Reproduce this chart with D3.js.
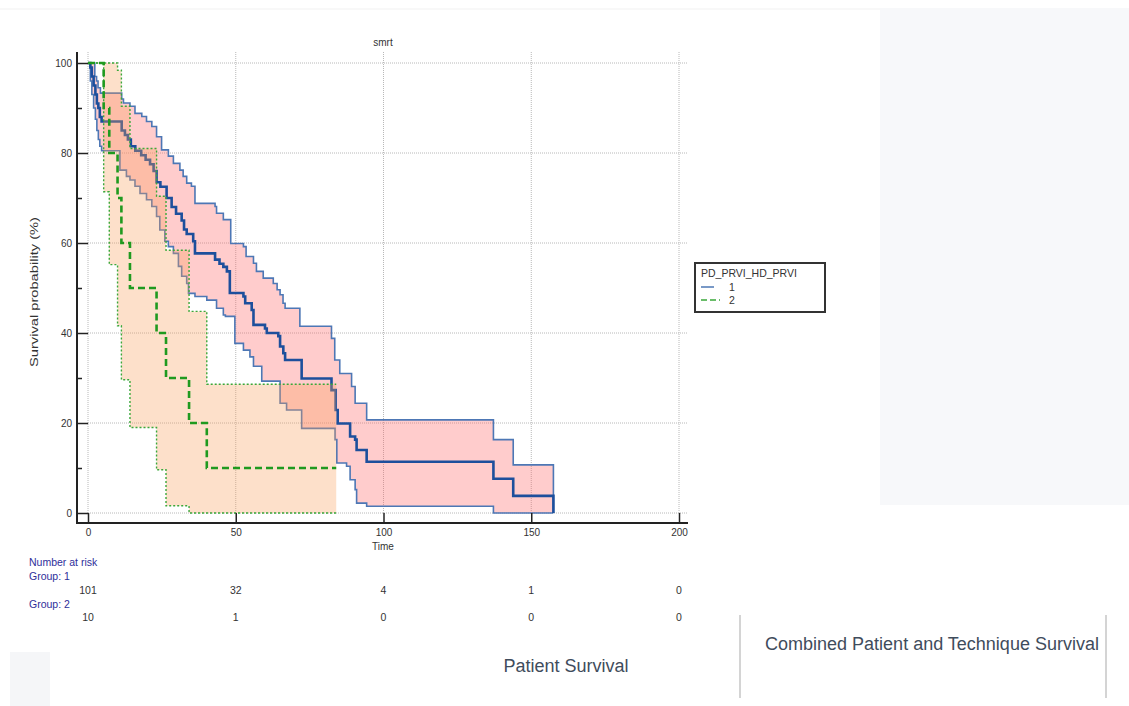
<!DOCTYPE html>
<html>
<head>
<meta charset="utf-8">
<script src="https://cdn.jsdelivr.net/npm/d3@7"></script>
<style>
  body { margin: 0; background: #fff; }
  text { font-family: "Liberation Sans", Arial, sans-serif; }
</style>
</head>
<body>
<script>
// Kaplan-Meier data: [time, survival %]
var group1Est = [[0,100],[0.8,99],[1.3,97],[1.9,95],[2.5,93],[3.0,91],[3.5,90],[4.0,88],[4.6,87],
  [11.4,85],[12.5,84],[13.5,83],[14.5,81.5],[16,80.5],[18,79.5],[19.5,78.5],[21,77.5],[22.2,76],
  [23.2,73.5],[24.5,72.5],[26.6,70],[28.3,68],[29.8,66.5],[31.7,65],[32.5,63],[33.4,62],[35.6,60.4],
  [36.2,57.7],[43,56.3],[44.5,55.4],[45.8,54.7],[47,53.7],[48,48.9],[52.6,48.1],[53.2,46.6],[55.4,45.1],
  [56,41.8],[59.9,41],[60.5,40],[64.4,39.3],[65,37],[66.1,35.5],[66.7,34],[72.3,29.9],[82.4,27.3],
  [83.8,22.9],[84.5,19.9],[88.7,17],[90.4,16.3],[90.9,14],[94.3,11.4],[137.2,7.6],[143.9,3.8],[157.5,0]];
var group1Upper = [[0,100],[2.3,97],[2.9,96],[3.4,94.5],[4.2,93.3],[11.4,92],[12,91.1],[14.2,90.4],
  [15.9,88.8],[18.2,88.1],[19.8,87],[21.6,85.9],[23.2,83.6],[24.9,80.7],[27.2,79.3],[28.9,77.7],
  [31.1,76.2],[32.2,74.8],[33.4,73.3],[35,72.6],[36.2,68.8],[43,68.1],[43.5,66.6],[45.8,65.2],
  [48.3,59.9],[52.6,59.2],[53.5,57],[56,55.5],[57,53.7],[59.3,52.2],[62.7,51],[64,49.6],[65,48.5],
  [66,46.6],[66.7,45.5],[71.7,41.5],[82.4,38.8],[83.5,34],[85.2,31],[89.2,28.1],[90.4,24.4],
  [94.3,20.7],[137.2,16.3],[143.9,10.7],[157.5,0]];
var group1Lower = [[0,100],[0.8,96],[1.3,93],[1.9,90],[2.5,87.5],[3.0,85],[3.5,83],[4.0,81.5],[4.6,80.5],
  [10.8,76.2],[13,74.8],[14.2,74],[15.9,72.6],[17.6,71],[19.8,69.6],[21.6,68.1],[23.2,65.9],[24.3,62.9],
  [26,60.4],[27.2,59.2],[28.9,57.7],[30.6,54.8],[31.7,52.6],[33.4,51],[34,48.8],[36.2,48.1],[40.2,47.3],
  [43.5,45.5],[45.8,44],[46.5,43.7],[49.7,37.7],[52.6,36.2],[54.8,34.7],[56,32.6],[58.8,29.3],[65,24.4],
  [67.2,22.9],[72.3,18.8],[83.6,16.3],[84.2,11.1],[87.5,10.4],[88.7,7.4],[90.4,5.2],[90.9,2.2],
  [94.3,1.5],[137.2,0],[157.5,0]];

var group2Est = [[0,100],[5.3,90],[7.2,80],[10,70],[11.3,60],[14.2,50],[23.2,40],[26.4,30],[34.2,20],[40.2,10],[84,10]];
var group2Upper = [[0,100],[10,98.4],[11.3,90.4],[14.2,81],[23.2,70.4],[26.4,58.4],[34.2,44.8],[40.2,28.6],[84,28.6]];
var group2Lower = [[0,100],[5.3,71.4],[7.2,55.2],[10,41.6],[11.3,29.6],[14.2,19],[23.2,9.6],[26.4,1.6],[34.2,0],[84,0]];

var groupNames = ["1", "2"];
var xTicks = [0, 50, 100, 150, 200];
var yTicks = [0, 20, 40, 60, 80, 100];
var yMinorTicks = [10, 30, 50, 70, 90];
var riskGroup1 = [101, 32, 4, 1, 0];
var riskGroup2 = [10, 1, 0, 0, 0];

var width = 1129, height = 706;

var svg = d3.select("body").append("svg")
    .attr("width", width)
    .attr("height", height);

// page furniture around the chart
svg.append("rect").attr("x", 880).attr("y", 8).attr("width", 249).attr("height", 497).attr("fill", "#f7f8fa");
svg.append("line").attr("x1", 0).attr("x2", 880).attr("y1", 9).attr("y2", 9).attr("stroke", "#f1f1f1");
svg.append("rect").attr("x", 10).attr("y", 652).attr("width", 40).attr("height", 54).attr("fill", "#f5f6f8");
svg.append("line").attr("x1", 740).attr("x2", 740).attr("y1", 615).attr("y2", 698).attr("stroke", "#d4d4d4").attr("stroke-width", 2);
svg.append("line").attr("x1", 1106).attr("x2", 1106).attr("y1", 615).attr("y2", 698).attr("stroke", "#d4d4d4").attr("stroke-width", 2);
svg.append("text").attr("x", 932).attr("y", 650).attr("text-anchor", "middle")
  .style("font-size", "18px").attr("fill", "#3f4c5c").text("Combined Patient and Technique Survival");
svg.append("text").attr("x", 566).attr("y", 672).attr("text-anchor", "middle")
  .style("font-size", "18px").attr("fill", "#3f4c5c").text("Patient Survival");

var x = d3.scaleLinear().domain([0, 200]).range([88, 679]);
var y = d3.scaleLinear().domain([0, 100]).range([513, 63]);

// grid
var grid = svg.append("g").attr("stroke", "#b8b8b8").attr("stroke-dasharray", "1,1");
grid.selectAll(".gx").data(xTicks).enter().append("line")
  .attr("x1", d => x(d)).attr("x2", d => x(d)).attr("y1", 52).attr("y2", y(0));
grid.selectAll(".gy").data(yTicks).enter().append("line")
  .attr("x1", x(0)).attr("x2", 688).attr("y1", d => y(d)).attr("y2", d => y(d));

function stepAt(pts, t) {
  var v = pts[0][1];
  pts.forEach(function(p) { if (p[0] <= t) v = p[1]; });
  return v;
}
function band(upper, lower) {
  var times = Array.from(new Set(upper.map(d => d[0]).concat(lower.map(d => d[0])))).sort((a, b) => a - b);
  return times.map(t => ({ t: t, hi: stepAt(upper, t), lo: stepAt(lower, t) }));
}

var area = d3.area().curve(d3.curveStepAfter)
  .x(d => x(d.t)).y0(d => y(d.lo)).y1(d => y(d.hi));
var line = d3.line().curve(d3.curveStepAfter)
  .x(d => x(d[0])).y(d => y(d[1]));

// group 1: band, limits and curve (drawn below group 2's band)
svg.append("path").attr("d", area(band(group1Upper, group1Lower)))
  .attr("fill", "rgba(255,100,100,0.33)");
[group1Upper, group1Lower].forEach(function(s) {
  svg.append("path").attr("d", line(s)).attr("fill", "none")
    .attr("stroke", "#4d77b5").attr("stroke-width", 1.6);
});
svg.append("path").attr("d", line(group1Est)).attr("fill", "none")
  .attr("stroke", "#1d4f9c").attr("stroke-width", 2.6);

// group 2
svg.append("path").attr("d", area(band(group2Upper, group2Lower)))
  .attr("fill", "rgba(250,160,90,0.32)");
[group2Upper, group2Lower].forEach(function(s) {
  svg.append("path").attr("d", line(s)).attr("fill", "none")
    .attr("stroke", "#3aa83a").attr("stroke-width", 1.4).attr("stroke-dasharray", "2,2");
});
svg.append("path").attr("d", line(group2Est)).attr("fill", "none")
  .attr("stroke", "#1f9a1f").attr("stroke-width", 2.6).attr("stroke-dasharray", "7,4");

// axes
svg.append("g").attr("transform", "translate(77,0)")
  .call(d3.axisLeft(y).tickValues(yTicks).tickSize(-11).tickPadding(5));
svg.append("g").attr("transform", "translate(77,0)")
  .call(d3.axisLeft(y).tickValues(yMinorTicks).tickSize(-5).tickFormat(""));
svg.append("g").attr("transform", "translate(0,523)")
  .call(d3.axisBottom(x).tickValues(xTicks).tickSize(-10).tickPadding(6));
svg.selectAll(".domain").remove();
svg.selectAll(".tick line").attr("stroke", "#222").attr("stroke-width", 1.5);
svg.selectAll(".tick text").style("font-size", "10px").attr("fill", "#333");

svg.append("line").attr("x1", 77).attr("x2", 77).attr("y1", 52).attr("y2", 524)
  .attr("stroke", "#222").attr("stroke-width", 2);
svg.append("line").attr("x1", 76).attr("x2", 688).attr("y1", 523).attr("y2", 523)
  .attr("stroke", "#222").attr("stroke-width", 2);

svg.append("text").attr("x", 383).attr("y", 46).attr("text-anchor", "middle")
  .style("font-size", "10px").attr("fill", "#333").text("smrt");
svg.append("text").attr("x", 383).attr("y", 550).attr("text-anchor", "middle")
  .style("font-size", "10px").attr("fill", "#333").text("Time");
svg.append("text").attr("transform", "translate(38,292) rotate(-90)").attr("text-anchor", "middle")
  .style("font-size", "10.5px").attr("fill", "#333")
  .attr("textLength", 150).attr("lengthAdjust", "spacingAndGlyphs")
  .text("Survival probability (%)");

// number at risk table
var risk = svg.append("g").style("font-size", "10.5px");
risk.append("text").attr("x", 29).attr("y", 566).attr("fill", "#2e2e9a").text("Number at risk");
risk.append("text").attr("x", 29).attr("y", 580).attr("fill", "#2e2e9a").text("Group: " + groupNames[0]);
risk.append("text").attr("x", 29).attr("y", 608).attr("fill", "#2e2e9a").text("Group: " + groupNames[1]);
risk.selectAll(".r1").data(riskGroup1).enter().append("text")
  .attr("x", (d, i) => x(xTicks[i])).attr("y", 594).attr("text-anchor", "middle").attr("fill", "#333").text(d => d);
risk.selectAll(".r2").data(riskGroup2).enter().append("text")
  .attr("x", (d, i) => x(xTicks[i])).attr("y", 621).attr("text-anchor", "middle").attr("fill", "#333").text(d => d);

// legend
var legend = svg.append("g");
legend.append("rect").attr("x", 695).attr("y", 263).attr("width", 130).attr("height", 49)
  .attr("fill", "#fff").attr("stroke", "#333").attr("stroke-width", 2);
legend.append("text").attr("x", 701).attr("y", 277).style("font-size", "10.5px").attr("fill", "#333").text("PD_PRVI_HD_PRVI");
legend.append("line").attr("x1", 701).attr("x2", 714).attr("y1", 287).attr("y2", 287)
  .attr("stroke", "#4d77b5").attr("stroke-width", 1.5);
legend.append("line").attr("x1", 701).attr("x2", 720).attr("y1", 300).attr("y2", 300)
  .attr("stroke", "#3aa83a").attr("stroke-width", 1.5).attr("stroke-dasharray", "6,3");
legend.append("text").attr("x", 729).attr("y", 291).style("font-size", "10.5px").attr("fill", "#333").text(groupNames[0]);
legend.append("text").attr("x", 729).attr("y", 304).style("font-size", "10.5px").attr("fill", "#333").text(groupNames[1]);
</script>
</body>
</html>
